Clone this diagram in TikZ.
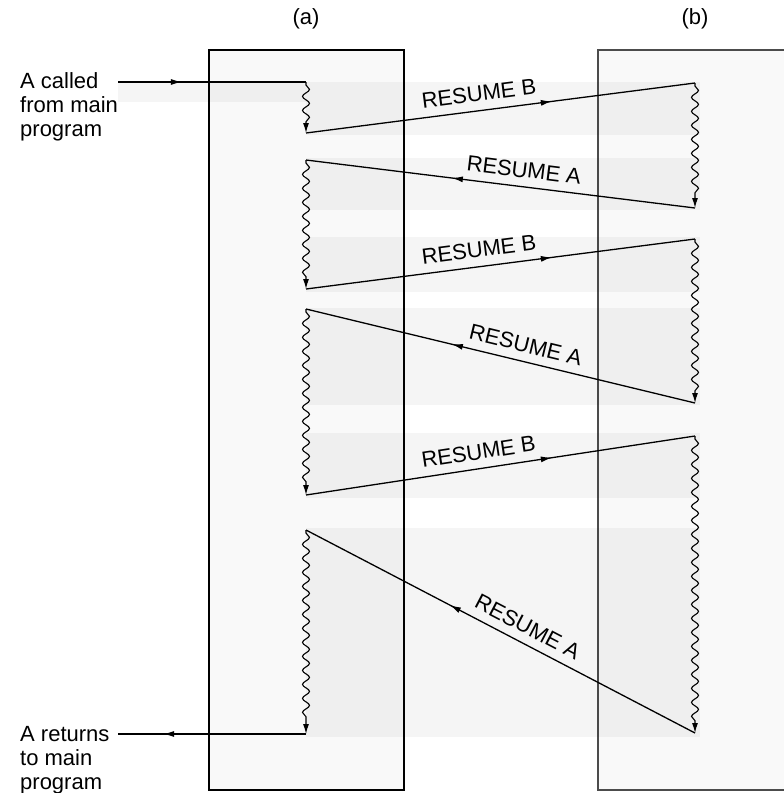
\documentclass[tikz,border=0pt]{standalone}
\usepackage{fontspec}
\setmainfont{Liberation Sans}
\usetikzlibrary{arrows.meta, decorations.pathmorphing, decorations.markings}
\tikzset{
    proc/.style={draw, line width=1.6pt, fill=gray!5},
    band/.style={fill=black, fill opacity=0.04},
    wave/.style={line width=1.1pt, -{Latex[length=10pt,width=6pt]}, decorate,
        decoration={snake, amplitude=3.5pt, segment length=14pt, pre length=3pt, post length=11pt}},
    link/.style={line width=1.3pt},
    midarrow/.style={postaction={decorate, decoration={markings,
        mark=at position #1 with {\arrow{Latex[length=11pt,width=6pt]}}}}},
    resume/.style={font=\fontsize{22}{24}\selectfont, sloped, above=5pt, pos=#1},
    caption/.style={font=\fontsize{22}{24}\selectfont, align=left, anchor=base west, inner sep=0pt}
}

\begin{document}
\begin{tikzpicture}[x=1pt, y=-1pt]
    \useasboundingbox (0,0) rectangle (784,793);
    \clip (0,0) rectangle (784,793);

    % the two coroutines
    \draw[proc] (209,50) rectangle (404,790);
    \draw[proc, draw=gray!60!black] (598,50) rectangle (800,790);

    % shaded bands
    \fill[band] (118,82) rectangle (306,102);
    \fill[band] (306,82) rectangle (700,135);
    \fill[band] (306,158) rectangle (700,210);
    \fill[band] (306,237) rectangle (700,292);
    \fill[band] (306,308) rectangle (700,405);
    \fill[band] (306,433) rectangle (700,498);
    \fill[band] (306,528) rectangle (700,737);

    \node[font=\fontsize{22}{24}\selectfont] (pa) at (306,19) {(a)};
    \node[font=\fontsize{22}{24}\selectfont] (pb) at (695,19) {(b)};
    % base is the last line here
    \node[caption] (called) at (20,136) {A called\\from main\\program};
    \node[caption] (returns) at (20,789) {A returns\\to main\\program};

    \coordinate (enter) at (118,82);
    \coordinate (a0) at (306,82);
    \coordinate (a1) at (306,133);
    \coordinate (b1) at (695,83);
    \coordinate (b2) at (695,208);
    \coordinate (a2) at (306,160);
    \coordinate (a3) at (306,289);
    \coordinate (b3) at (695,239);
    \coordinate (b4) at (695,403);
    \coordinate (a4) at (306,309);
    \coordinate (a5) at (306,495);
    \coordinate (b5) at (695,436);
    \coordinate (b6) at (695,733);
    \coordinate (a6) at (306,530);
    \coordinate (a7) at (306,734);
    \coordinate (leave) at (118,734);

    \draw[link, midarrow=0.34] (enter) -- (a0);
    \draw[wave] (a0) -- (a1);
    \draw[link, midarrow=0.632] (a1) -- node[resume=0.45] {RESUME B} (b1);
    \draw[wave] (b1) -- (b2);
    \draw[link, midarrow=0.625] (b2) -- node[resume=0.445] {RESUME A} (a2);
    \draw[wave] (a2) -- (a3);
    \draw[link, midarrow=0.632] (a3) -- node[resume=0.45] {RESUME B} (b3);
    \draw[wave] (b3) -- (b4);
    \draw[link, midarrow=0.625] (b4) -- node[resume=0.445] {RESUME A} (a4);
    \draw[wave] (a4) -- (a5);
    \draw[link, midarrow=0.632] (a5) -- node[resume=0.45] {RESUME B} (b5);
    \draw[wave] (b5) -- (b6);
    \draw[link, midarrow=0.63] (b6) -- node[resume=0.45] {RESUME A} (a6);
    \draw[wave] (a6) -- (a7);
    \draw[link, midarrow=0.76] (a7) -- (leave);
\end{tikzpicture}
\end{document}
